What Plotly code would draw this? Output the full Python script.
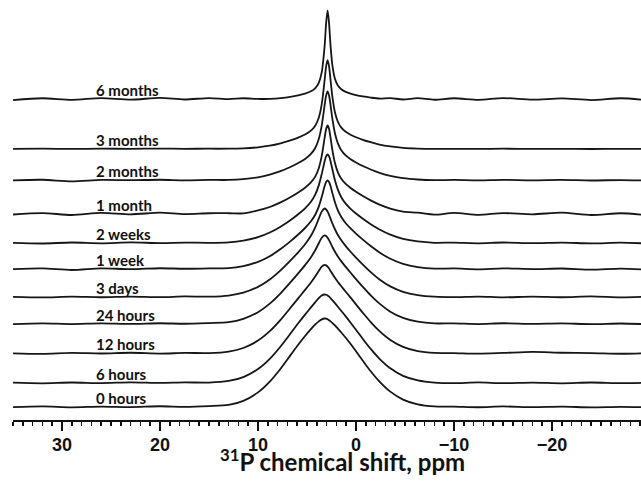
import plotly.graph_objects as go

# chemical shift grid (ppm)
PPM = [35, 32, 29, 26, 23, 20, 17.5, 15, 13, 11.5, 10, 8.8, 7.7, 6.7, 5.9, 5.2, 4.6, 4.15,
       3.8, 3.5, 3.2, 3.05, 2.9, 2.75, 2.6, 2.4, 2.15, 1.85, 1.5, 1.05, 0.55, 0, -0.7, -1.5,
       -2.4, -3.5, -4.8, -6.3, -8, -10, -12.5, -15, -18, -21, -24, -27, -29.2]

LABELS = ["0 hours", "6 hours", "12 hours", "24 hours", "3 days", "1 week",
          "2 weeks", "1 month", "2 months", "3 months", "6 months"]

# vertical stacking offset of each spectrum (normalized peak-height units)
OFFSETS = [0.0, 0.270, 0.603, 0.935, 1.236, 1.551, 1.843, 2.169, 2.551, 2.904, 3.461]

# normalized intensities
I_0h = [.004, .012, .002, .010, .005, .014, .008, .016,
        .029, .075, .170, .291, .436, .586, .706, .804, .880, .933, .968, .991, 1.0, .998, .991,
        .981, .968, .949, .922, .887, .843, .784, .714, .632, .525, .407, .291, .178, .089, .035,
        .012, .010, .003, .012, .004, .009, .002, .008, .004]
I_6h = [.009, .002, .011, .004, .013, .006, .012, .010,
        .028, .072, .162, .277, .416, .559, .676, .774, .855, .915, .959, .989, 1.0, .997, .989,
        .976, .959, .934, .902, .862, .815, .754, .683, .603, .500, .388, .277, .170, .085, .034,
        .010, .004, .012, .003, .010, .002, .011, .003, .008]
I_12h = [.006, .000, .010, .004, .012, .003, .010, .009,
         .026, .066, .149, .255, .382, .515, .624, .718, .801, .871, .932, .979, 1.0, .994, .979,
         .958, .932, .896, .854, .808, .759, .698, .631, .556, .461, .357, .255, .156, .079, .031,
         .010, .008, .002, .010, .022, .012, .009, .001, .006]
I_24h = [.002, .010, .003, .011, .004, .012, .006, .014,
         .024, .061, .136, .232, .348, .470, .572, .665, .753, .835, .911, .973, 1.0, .993, .973,
         .945, .911, .867, .815, .762, .707, .645, .579, .508, .420, .325, .232, .142, .072, .029,
         .010, .011, .003, .012, .005, .010, .002, .009, .003]
I_3d = [.007, .001, .009, .003, .011, .004, .012, .010,
        .022, .054, .120, .203, .305, .414, .508, .598, .694, .791, .886, .965, 1.0, .991, .965,
        .929, .886, .830, .767, .703, .643, .578, .514, .448, .369, .285, .203, .125, .064, .027,
        .009, .004, .011, .002, .010, .003, .012, .001, .007]
I_1w = [.003, .012, -.006, .013, .003, .014, .008, .012,
        .015, .038, .086, .149, .229, .316, .393, .466, .541, .618, .706, .814, .937, .983, 1.0,
        .983, .937, .855, .756, .664, .589, .520, .461, .403, .335, .263, .191, .120, .063, .027,
        .009, .012, .002, .013, .004, .011, -.002, .010, .000]
I_2w = [.006, .000, .011, .002, .012, .005, .010, .008,
        .013, .032, .071, .123, .189, .261, .328, .395, .469, .552, .653, .779, .925, .979, 1.0,
        .979, .925, .828, .711, .605, .520, .448, .389, .337, .278, .216, .157, .099, .052, .023,
        .008, .010, .002, .011, .003, .010, .001, .009, .002]
I_1m = [.000, .016, -.006, .018, .002, .020, .004, .014,
        .014, .012, .046, .084, .136, .194, .248, .301, .360, .428, .519, .655, .863, .960, 1.0,
        .960, .863, .718, .578, .473, .401, .343, .297, .255, .207, .158, .110, .066, .033, .020,
        -.002, .018, -.004, .016, .002, .020, -.006, .014, -.002]
I_2m = [.002, .008, -.010, .006, .003, .008, .002, .006,
        .006, .015, .036, .066, .105, .152, .196, .242, .298, .368, .466, .617, .847, .955, 1.0,
        .955, .847, .686, .531, .417, .340, .281, .238, .202, .162, .123, .086, .052, .026, .011,
        .004, .006, .001, .007, .002, .006, .000, .005, .001]
I_3m = [.002, .004, .002, .004, .003, .005, .003, .004,
        .004, .008, .020, .038, .065, .097, .129, .163, .207, .265, .352, .502, .777, .930, 1.0,
        .930, .777, .578, .414, .307, .241, .194, .161, .133, .104, .077, .051, .030, .014, .006,
        .003, .003, .002, .004, .002, .003, .001, .003, .002]
I_6m = [-.006, .014, -.004, .016, -.002, .018, .000, .016,
        .004, .014, .006, .008, .016, .030, .047, .067, .092, .129, .188, .304, .606, .856, 1.0,
        .856, .606, .375, .233, .157, .115, .085, .065, .049, .034, .021, .011, .016, .000, .015,
        -.003, .014, -.004, .016, -.002, .012, -.006, .014, -.002]

SPECTRA = [I_0h, I_6h, I_12h, I_24h, I_3d, I_1w, I_2w, I_1m, I_2m, I_3m, I_6m]

LABEL_PPM = 26.7
LABEL_GAP = 0.107

fig = go.Figure()
for name, off, spec in zip(LABELS, OFFSETS, SPECTRA):
    fig.add_trace(go.Scatter(
        x=PPM, y=[off + v for v in spec], mode="lines", name=name,
        line=dict(color="#161616", width=1.8, shape="spline", smoothing=0.8),
        showlegend=False, hoverinfo="skip"))
    fig.add_annotation(x=LABEL_PPM, y=off + LABEL_GAP, xref="x", yref="y",
                       text="<b>%s</b>" % name, showarrow=False,
                       xanchor="left", yanchor="middle",
                       font=dict(family="Lato", size=15, color="#111"))

fig.add_annotation(x=0.524, y=0, xref="paper", yref="paper", yanchor="top",
                   yshift=-22, showarrow=False,
                   text="<b><sup>31</sup>P chemical shift, ppm</b>",
                   font=dict(family="Lato", size=24, color="#111"))

fig.update_xaxes(range=[35, -29.08], showgrid=False, zeroline=False,
                 showline=True, linecolor="#111", linewidth=2,
                 ticks="outside", ticklen=9, tickwidth=2, tickcolor="#111",
                 tick0=0, dtick=10, ticklabelstandoff=-2,
                 tickfont=dict(family="Liberation Sans", size=18, color="#111", weight="bold"),
                 minor=dict(ticks="outside", ticklen=4, tickwidth=1.5, tickcolor="#111", dtick=1))
fig.update_yaxes(range=[-0.1404, 4.579], visible=False)
fig.update_layout(width=641, height=481, margin=dict(l=13, r=0, t=0, b=61),
                  plot_bgcolor="white", paper_bgcolor="white", hovermode=False)

fig.write_html("out.html", config={"displayModeBar": False, "staticPlot": True},
               post_script="document.body.style.margin='0px';document.body.style.overflow='hidden';")
